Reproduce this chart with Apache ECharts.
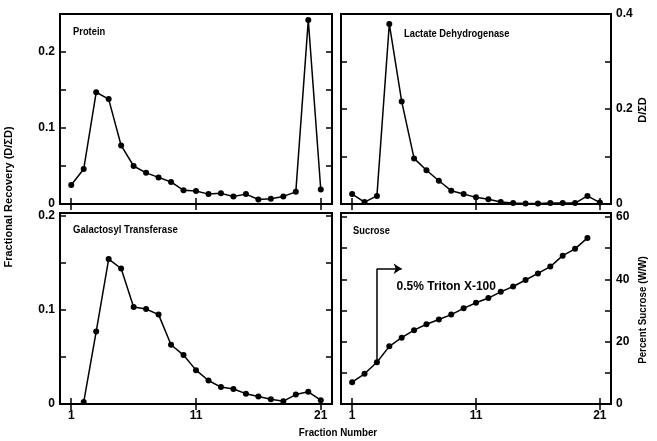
<!DOCTYPE html>
<html>
<head>
<meta charset="utf-8">
<script src="https://cdn.jsdelivr.net/npm/echarts@6/dist/echarts.min.js"></script>
<style>
  html, body { margin: 0; padding: 0; background: #fff; }
  #chart { width: 657px; height: 441px; }
</style>
</head>
<body>
<div id="chart"></div>
<script>
// fraction numbers along the gradient
const fractions = [1, 2, 3, 4, 5, 6, 7, 8, 9, 10, 11, 12, 13, 14, 15, 16, 17, 18, 19, 20, 21];

// D/ΣD per fraction
const protein = [0.025, 0.046, 0.147, 0.138, 0.077, 0.050, 0.041, 0.035, 0.029, 0.018, 0.017,
                 0.013, 0.014, 0.010, 0.013, 0.006, 0.007, 0.010, 0.016, 0.242, 0.019];
const ldh = [0.021, 0.004, 0.017, 0.379, 0.216, 0.096, 0.071, 0.049, 0.028, 0.021, 0.014,
             0.010, 0.004, 0.002, 0.001, 0.001, 0.002, 0.002, 0.002, 0.017, 0.003];
// galactosyl transferase has no point for fraction 1
const galactosyl = [null, 0.002, 0.077, 0.154, 0.144, 0.103, 0.101, 0.095, 0.063, 0.052, 0.036,
                    0.025, 0.018, 0.016, 0.011, 0.008, 0.005, 0.003, 0.010, 0.013, 0.004];
// percent sucrose (w/w), fractions 1..20
const sucrose = [7.0, 9.7, 13.4, 18.5, 21.3, 23.7, 25.6, 27.1, 28.7, 30.7, 32.5,
                 34.0, 36.0, 37.7, 39.8, 41.9, 44.1, 47.6, 49.8, 53.3];

// tick labels
const xTicks = [1, 11, 21];
const recoveryTicks = [0, 0.05, 0.1, 0.15, 0.2];
const recoveryLabels = [0, 0.1, 0.2];
const ldhTicks = [0, 0.1, 0.2, 0.3, 0.4];
const ldhLabels = [0, 0.2, 0.4];
const sucroseTicks = [0, 10, 20, 30, 40, 50, 60];
const sucroseLabels = [0, 20, 40, 60];

// Triton X-100 arrow, in data units of the sucrose panel
const arrowX = [3, 3, 5];
const arrowY = [13.4, 43.4, 43.4];
const tritonText = '0.5% Triton X-100';
const tritonPos = [8.6, 37.8];

const FONT = "'Liberation Sans Narrow', 'Liberation Sans', sans-serif";

function pairs(xs, ys) {
    let out = [];
    ys.forEach((v, i) => {
        if (v !== null) out.push([xs[i], v]);
    });
    return out;
}

function xAxis(grid, pos, showLabel) {
    return {
        type: 'value', gridIndex: grid, position: pos,
        min: 0.1, max: 21.9,
        axisLine: {show: false},
        splitLine: {show: false},
        axisTick: {
            show: true, inside: true, length: 6, customValues: xTicks,
            lineStyle: {color: '#000', width: 1.5}
        },
        axisLabel: {
            show: showLabel, customValues: xTicks, margin: 6,
            color: '#000', fontFamily: FONT, fontWeight: 'bold', fontSize: 12
        }
    };
}

function yAxis(grid, pos, max, ticks, labels, showLabel) {
    return {
        type: 'value', gridIndex: grid, position: pos,
        min: 0, max: max,
        axisLine: {show: false},
        splitLine: {show: false},
        axisTick: {
            show: true, inside: true, length: 6, customValues: ticks,
            lineStyle: {color: '#000', width: 1.5}
        },
        axisLabel: {
            show: showLabel, customValues: labels, margin: 5,
            color: '#000', fontFamily: FONT, fontWeight: 'bold', fontSize: 12
        }
    };
}

function lineSeries(idx, data) {
    return {
        type: 'line', xAxisIndex: idx, yAxisIndex: idx,
        data: data,
        symbol: 'circle', symbolSize: 6,
        itemStyle: {color: '#000'},
        lineStyle: {color: '#000', width: 1.5},
        silent: true, animation: false
    };
}

// centred text, optionally turned to read bottom-to-top
function text(x, y, str, size, rotate, squeeze) {
    return {
        type: 'text', x: x, y: y, rotation: rotate ? Math.PI / 2 : 0,
        scaleX: squeeze || 1,
        style: {
            text: str, fill: '#000', font: 'bold ' + size + 'px ' + FONT,
            align: 'center', verticalAlign: 'middle'
        }
    };
}

// panel title, left aligned
function title(x, y, str, squeeze) {
    return {
        type: 'text', x: x, y: y, scaleX: squeeze,
        style: {
            text: str, fill: '#000', font: 'bold 11px ' + FONT,
            align: 'left', verticalAlign: 'middle'
        }
    };
}

let frame = {show: true, borderColor: '#000', borderWidth: 2, backgroundColor: 'transparent'};

let option = {
    backgroundColor: '#fff',
    animation: false,
    grid: [
        Object.assign({left: 60, top: 14, width: 272, height: 190}, frame),
        Object.assign({left: 341, top: 14, width: 270, height: 190}, frame),
        Object.assign({left: 60, top: 213, width: 272, height: 191}, frame),
        Object.assign({left: 341, top: 213, width: 270, height: 191}, frame)
    ],
    xAxis: [
        xAxis(0, 'bottom', false), xAxis(1, 'bottom', false),
        xAxis(2, 'bottom', true), xAxis(3, 'bottom', true),
        xAxis(0, 'top', false), xAxis(1, 'top', false),
        xAxis(2, 'top', false), xAxis(3, 'top', false)
    ],
    yAxis: [
        yAxis(0, 'left', 0.25, recoveryTicks, recoveryLabels, true),
        yAxis(1, 'right', 0.4, ldhTicks, ldhLabels, true),
        yAxis(2, 'left', 0.203, recoveryTicks, recoveryLabels, true),
        yAxis(3, 'right', 61.3, sucroseTicks, sucroseLabels, true),
        yAxis(0, 'right', 0.25, recoveryTicks, recoveryLabels, false),
        yAxis(1, 'left', 0.4, ldhTicks, ldhLabels, false),
        yAxis(2, 'right', 0.203, recoveryTicks, recoveryLabels, false),
        yAxis(3, 'left', 61.3, sucroseTicks, sucroseLabels, false)
    ],
    series: [
        lineSeries(0, pairs(fractions, protein)),
        lineSeries(1, pairs(fractions, ldh)),
        lineSeries(2, pairs(fractions, galactosyl)),
        lineSeries(3, pairs(fractions, sucrose)),
        {
            type: 'line', xAxisIndex: 3, yAxisIndex: 3, data: [],
            silent: true,
            markLine: {
                silent: true, animation: false,
                label: {show: false},
                lineStyle: {color: '#000', width: 1.5, type: 'solid'},
                data: [
                    [{coord: [arrowX[0], arrowY[0]], symbol: 'none'},
                     {coord: [arrowX[1], arrowY[1]], symbol: 'none'}],
                    [{coord: [arrowX[1], arrowY[1]], symbol: 'none'},
                     {coord: [arrowX[2], arrowY[2]], symbol: 'arrow', symbolSize: 8}]
                ]
            },
            markPoint: {
                silent: true, symbolSize: 0,
                label: {
                    show: true, position: 'inside', color: '#000',
                    fontFamily: FONT, fontWeight: 'bold', fontSize: 12,
                    formatter: tritonText
                },
                data: [{coord: tritonPos}]
            }
        }
    ],
    graphic: [
        title(73, 32, 'Protein', 0.85),
        title(404, 34, 'Lactate Dehydrogenase', 0.85),
        title(73, 230, 'Galactosyl Transferase', 0.87),
        title(353, 231, 'Sucrose', 0.85),
        text(9, 197, 'Fractional Recovery (D/ΣD)', 11, true, 1),
        text(643, 110, 'D/ΣD', 11, true, 1),
        text(643, 310, 'Percent Sucrose (W/W)', 11, true, 0.89),
        text(338, 433, 'Fraction Number', 11, false, 0.89)
    ]
};

let chart = echarts.init(document.getElementById('chart'), null, {renderer: 'canvas'});
chart.setOption(option);
</script>
</body>
</html>
